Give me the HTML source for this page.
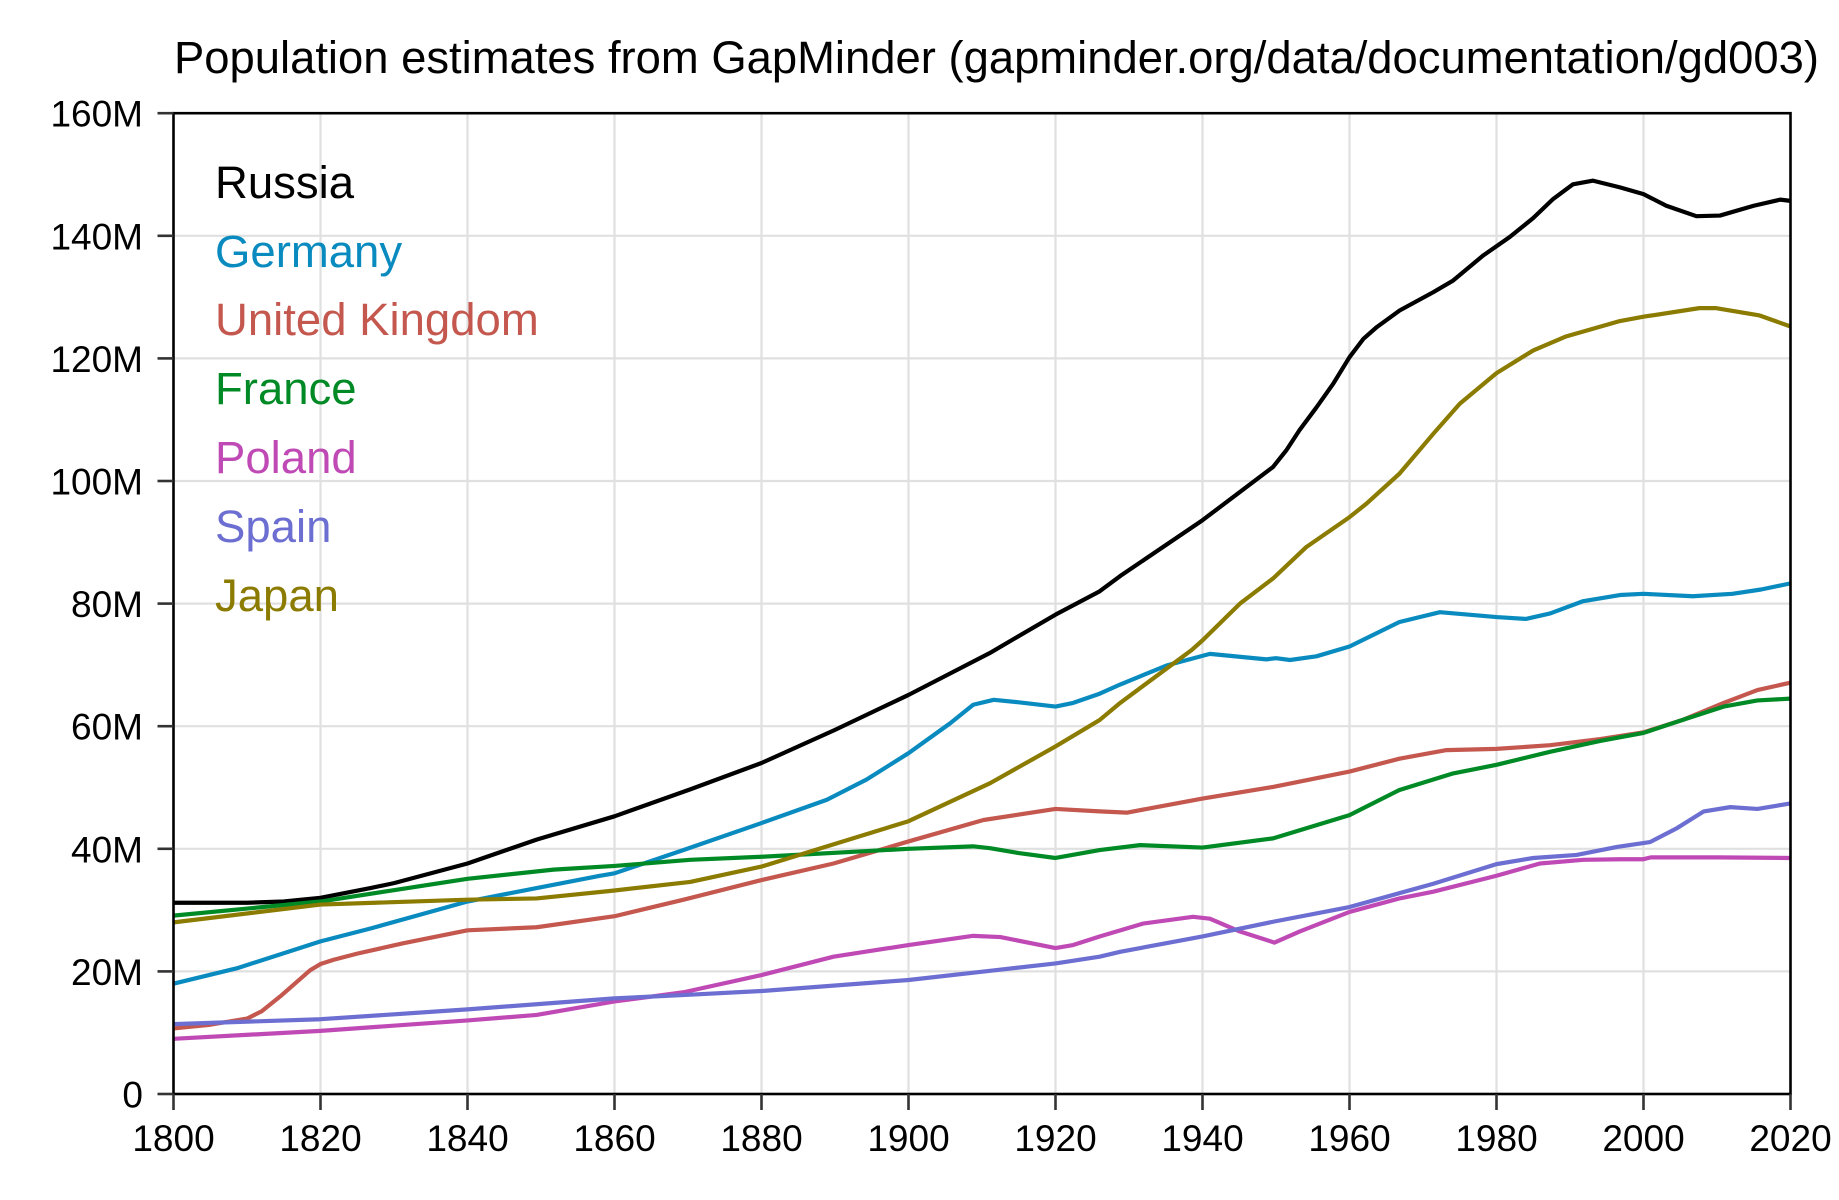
<!DOCTYPE html>
<html>
<head>
<meta charset="utf-8">
<style>
html,body{margin:0;padding:0;background:#fff;}
svg{display:block;}
text{font-family:"Liberation Sans","DejaVu Sans",sans-serif;}
</style>
</head>
<body>
<svg width="1839" height="1200" viewBox="0 0 1839 1200" xmlns="http://www.w3.org/2000/svg">
<rect width="1839" height="1200" fill="#fff"/>
<!-- grid -->
<g stroke="#e0e0e0" stroke-width="2.2">
<line x1="320.5" y1="113" x2="320.5" y2="1094"/>
<line x1="467.5" y1="113" x2="467.5" y2="1094"/>
<line x1="614.5" y1="113" x2="614.5" y2="1094"/>
<line x1="761.5" y1="113" x2="761.5" y2="1094"/>
<line x1="908.5" y1="113" x2="908.5" y2="1094"/>
<line x1="1055.5" y1="113" x2="1055.5" y2="1094"/>
<line x1="1202.5" y1="113" x2="1202.5" y2="1094"/>
<line x1="1349.5" y1="113" x2="1349.5" y2="1094"/>
<line x1="1496.5" y1="113" x2="1496.5" y2="1094"/>
<line x1="1643.5" y1="113" x2="1643.5" y2="1094"/>
<line x1="173.5" y1="971.4" x2="1790.5" y2="971.4"/>
<line x1="173.5" y1="848.8" x2="1790.5" y2="848.8"/>
<line x1="173.5" y1="726.2" x2="1790.5" y2="726.2"/>
<line x1="173.5" y1="603.6" x2="1790.5" y2="603.6"/>
<line x1="173.5" y1="481" x2="1790.5" y2="481"/>
<line x1="173.5" y1="358.4" x2="1790.5" y2="358.4"/>
<line x1="173.5" y1="235.8" x2="1790.5" y2="235.8"/>
</g>
<!-- series -->
<g transform="translate(173.5,1094) scale(7.35,-6.13)" fill="none" stroke-width="4.2" stroke-linejoin="round" stroke-linecap="butt">
<polyline vector-effect="non-scaling-stroke" stroke="#000000" points="0,31.2 5,31.2 10,31.2 15,31.4 20,32.0 26.8,33.6 30,34.4 40,37.6 49.4,41.5 60,45.3 70.3,49.7 80,54.0 90,59.4 100,65.1 111,71.9 120,78.2 126,82.0 128.8,84.5 140,93.6 149.6,102.3 151.4,105.0 153.2,108.3 155.5,112.0 157.8,115.9 160,120.2 161.9,123.2 163.7,125.1 166.8,127.8 171.4,130.8 174.1,132.7 178.2,136.8 181.8,139.8 185,142.9 187.7,146.0 190.4,148.4 193.1,149.0 196.8,147.9 200,146.8 203.1,144.9 207.2,143.2 210.4,143.3 215,144.9 218.6,145.9 220,145.7"/>
<polyline vector-effect="non-scaling-stroke" stroke="#0a8bbf" points="0,18.0 8.6,20.5 20,24.9 26.8,27.0 40,31.4 58,35.6 60,36.0 69.4,39.8 80,44.2 88.9,48.0 94.3,51.3 100,55.6 105.7,60.5 108.8,63.5 111.6,64.3 115,63.9 120,63.2 122.4,63.8 126,65.3 128.8,66.8 135.1,69.9 141,71.8 148.7,70.9 150,71.1 151.9,70.8 155.5,71.4 160,73.0 166.8,77.0 172.3,78.6 180,77.8 184,77.5 187.3,78.4 191.8,80.4 196.8,81.4 200,81.6 206.7,81.2 212.1,81.6 216,82.3 220,83.3"/>
<polyline vector-effect="non-scaling-stroke" stroke="#c4584f" points="0,10.7 5,11.3 10,12.3 12,13.5 14.5,15.9 16.5,18.0 18.6,20.2 20,21.2 21.8,21.9 25,22.9 31.3,24.6 40,26.7 49.4,27.2 60,29.0 69.4,31.7 80,34.9 89.8,37.6 100,41.2 110.2,44.7 120,46.5 126,46.1 129.7,45.9 140,48.2 149.6,50.1 160,52.6 166.8,54.7 173.2,56.1 180,56.3 187.3,56.9 194.1,57.9 200,59.0 205.5,61.1 210.9,63.8 215.5,65.9 220,67.1"/>
<polyline vector-effect="non-scaling-stroke" stroke="#008a26" points="0,29.1 20,31.4 40,35.1 51.7,36.6 60,37.2 70.3,38.2 80,38.7 100,40.0 108.8,40.4 111.1,40.1 115,39.3 120,38.5 126,39.8 131.5,40.6 140,40.2 149.6,41.7 160,45.5 166.8,49.6 174.1,52.3 180,53.7 187.2,55.8 194.1,57.6 200,58.9 205.5,61.1 210.9,63.2 215.5,64.2 220,64.5"/>
<polyline vector-effect="non-scaling-stroke" stroke="#c04ab5" points="0,9.0 20,10.3 40,12.0 49.4,12.9 60,15.1 69.4,16.6 80,19.4 89.8,22.4 100,24.3 108.8,25.8 112.5,25.6 120,23.8 122.4,24.3 126,25.7 131.9,27.8 138.7,28.9 141,28.6 145.1,26.5 149.8,24.7 153.2,26.5 160,29.7 166.8,31.9 171.4,33.0 180,35.6 185.9,37.6 191.8,38.2 196.8,38.3 200,38.3 201,38.6 210,38.6 220,38.5"/>
<polyline vector-effect="non-scaling-stroke" stroke="#6c6fd1" points="0,11.4 20,12.2 40,13.8 60,15.6 70.3,16.2 80,16.8 100,18.6 111.1,20.1 120,21.3 126,22.4 128.8,23.2 140,25.7 149.6,28.1 160,30.5 171.4,34.3 180,37.5 185,38.5 190.9,39.0 196.4,40.3 200.9,41.1 204.6,43.4 208.2,46.1 211.8,46.8 215.5,46.5 220,47.4"/>
<polyline vector-effect="non-scaling-stroke" stroke="#8b7b00" points="0,28.0 20,30.9 40,31.7 49.4,31.9 60,33.2 70.3,34.6 80,37.1 88.9,40.4 100,44.5 111.1,50.7 120,56.7 126,61.0 128.8,63.8 138.5,72.4 140,74.0 145.1,80.0 149.6,84.1 154.1,89.2 160,94.1 162.3,96.3 166.8,101.2 171.4,107.7 175,112.6 180,117.6 185,121.3 189.5,123.6 196.8,126.1 200,126.8 207.6,128.2 209.9,128.2 215.8,127.0 220,125.2"/>
</g>
<!-- axes -->
<rect x="173.5" y="113.2" width="1617" height="980.8" fill="none" stroke="#000" stroke-width="2.6"/>
<!-- ticks -->
<g stroke="#333" stroke-width="2.6">
<line x1="173.5" y1="1094" x2="173.5" y2="1110"/>
<line x1="320.5" y1="1094" x2="320.5" y2="1110"/>
<line x1="467.5" y1="1094" x2="467.5" y2="1110"/>
<line x1="614.5" y1="1094" x2="614.5" y2="1110"/>
<line x1="761.5" y1="1094" x2="761.5" y2="1110"/>
<line x1="908.5" y1="1094" x2="908.5" y2="1110"/>
<line x1="1055.5" y1="1094" x2="1055.5" y2="1110"/>
<line x1="1202.5" y1="1094" x2="1202.5" y2="1110"/>
<line x1="1349.5" y1="1094" x2="1349.5" y2="1110"/>
<line x1="1496.5" y1="1094" x2="1496.5" y2="1110"/>
<line x1="1643.5" y1="1094" x2="1643.5" y2="1110"/>
<line x1="1790.5" y1="1094" x2="1790.5" y2="1110"/>
<line x1="157.5" y1="1094" x2="173.5" y2="1094"/>
<line x1="157.5" y1="971.4" x2="173.5" y2="971.4"/>
<line x1="157.5" y1="848.8" x2="173.5" y2="848.8"/>
<line x1="157.5" y1="726.2" x2="173.5" y2="726.2"/>
<line x1="157.5" y1="603.6" x2="173.5" y2="603.6"/>
<line x1="157.5" y1="481" x2="173.5" y2="481"/>
<line x1="157.5" y1="358.4" x2="173.5" y2="358.4"/>
<line x1="157.5" y1="235.8" x2="173.5" y2="235.8"/>
<line x1="157.5" y1="113.2" x2="173.5" y2="113.2"/>
</g>
<!-- tick labels -->
<g font-size="37" fill="#000" text-anchor="middle">
<text x="173.5" y="1151">1800</text>
<text x="320.5" y="1151">1820</text>
<text x="467.5" y="1151">1840</text>
<text x="614.5" y="1151">1860</text>
<text x="761.5" y="1151">1880</text>
<text x="908.5" y="1151">1900</text>
<text x="1055.5" y="1151">1920</text>
<text x="1202.5" y="1151">1940</text>
<text x="1349.5" y="1151">1960</text>
<text x="1496.5" y="1151">1980</text>
<text x="1643.5" y="1151">2000</text>
<text x="1790.5" y="1151">2020</text>
</g>
<g font-size="37" fill="#000" text-anchor="end">
<text x="143" y="1107.5">0</text>
<text x="143" y="984.9">20M</text>
<text x="143" y="862.3">40M</text>
<text x="143" y="739.7">60M</text>
<text x="143" y="617.1">80M</text>
<text x="143" y="494.5">100M</text>
<text x="143" y="371.9">120M</text>
<text x="143" y="249.3">140M</text>
<text x="143" y="126.7">160M</text>
</g>
<!-- title -->
<text x="174" y="73" font-size="45" fill="#000" textLength="1645" lengthAdjust="spacingAndGlyphs">Population estimates from GapMinder (gapminder.org/data/documentation/gd003)</text>
<!-- legend -->
<g font-size="45.5">
<text x="215" y="198" fill="#000000">Russia</text>
<text x="215" y="267" fill="#0a8bbf">Germany</text>
<text x="215" y="335" fill="#c4584f">United Kingdom</text>
<text x="215" y="404" fill="#008a26">France</text>
<text x="215" y="473" fill="#c04ab5">Poland</text>
<text x="215" y="542" fill="#6c6fd1">Spain</text>
<text x="215" y="611" fill="#8b7b00">Japan</text>
</g>
</svg>
</body>
</html>
